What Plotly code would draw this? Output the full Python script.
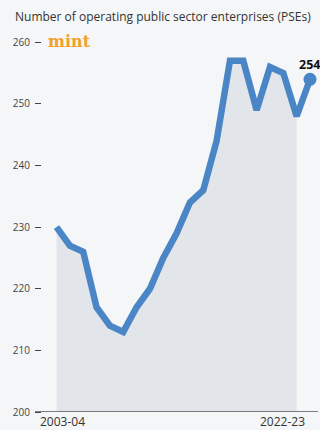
import plotly.graph_objects as go

# Fiscal years and number of operating central public sector enterprises
years = ["2003-04", "2004-05", "2005-06", "2006-07", "2007-08", "2008-09",
         "2009-10", "2010-11", "2011-12", "2012-13", "2013-14", "2014-15",
         "2015-16", "2016-17", "2017-18", "2018-19", "2019-20", "2020-21",
         "2021-22", "2022-23"]
pses = [230, 227, 226, 217, 214, 213, 217, 220, 225, 229, 234, 236,
        244, 257, 257, 249, 256, 255, 248, 254]
y_ticks = [200, 210, 220, 230, 240, 250, 260]

BG = "#f4f6f7"
FILL = "#e2e5e9"
BLUE = "#4a86c6"
INK = "#333333"

fig = go.Figure()

# shaded area under the series
fig.add_trace(go.Scatter(
    x=years[:-1], y=pses[:-1], mode="lines",
    line=dict(width=0, color=FILL), fill="tozeroy", fillcolor=FILL,
    hoverinfo="skip", showlegend=False,
))

# the series line
fig.add_trace(go.Scatter(
    x=years, y=pses, mode="lines",
    line=dict(width=6.5, color=BLUE), showlegend=False,
))

# end-point marker
fig.add_trace(go.Scatter(
    x=[years[-1]], y=[pses[-1]], mode="markers",
    marker=dict(size=13, color=BLUE), showlegend=False,
))

annotations = [
    dict(x=years[-1], y=pses[-1], xref="x", yref="y", text=f"<b>{pses[-1]}</b>",
         showarrow=False, xanchor="left", yanchor="middle", xshift=-13, yshift=15,
         font=dict(family="Open Sans", size=12.5, color="#111111")),
    dict(x=years[0], y=0, xref="x", yref="paper", text=years[0],
         showarrow=False, xanchor="left", yanchor="top", xshift=-19, yshift=1,
         font=dict(family="Open Sans", size=12, color=INK)),
    dict(x=years[-1], y=0, xref="x", yref="paper", text=years[-1],
         showarrow=False, xanchor="right", yanchor="top", xshift=-3, yshift=1,
         font=dict(family="Open Sans", size=12, color=INK)),
    dict(x=0, y=1, xref="paper", yref="paper",
         text="Number of operating public sector enterprises (PSEs)",
         showarrow=False, xanchor="left", yanchor="middle", xshift=-29, yshift=14,
         font=dict(family="Open Sans", size=12, color=INK)),
    dict(x=0, y=260, xref="paper", yref="y", text="<b>mint</b>",
         showarrow=False, xanchor="left", yanchor="middle", xshift=4, yshift=1,
         font=dict(family="DejaVu Serif", size=16, color="#f2a02a")),
]

fig.update_layout(
    width=320, height=430,
    margin=dict(l=42, r=2, t=30, b=18),
    paper_bgcolor=BG, plot_bgcolor=BG,
    annotations=annotations,
    shapes=[dict(type="line", xref="paper", yref="y", x0=-0.025, x1=1, y0=200, y1=200,
                 line=dict(color="#555555", width=1.5))],
    xaxis=dict(
        type="category", range=[-1.09, 19.6],
        showgrid=False, zeroline=False, showticklabels=False, ticks="",
        showline=False,
    ),
    yaxis=dict(
        range=[200, 262], tickvals=y_ticks,
        showgrid=False, zeroline=False, showline=False,
        ticks="outside", ticklen=6, tickwidth=1.2, tickcolor="#444444",
        tickfont=dict(family="Open Sans", size=10, color="#444444"),
        ticklabelstandoff=3,
    ),
)

fig.write_html("out.html")
